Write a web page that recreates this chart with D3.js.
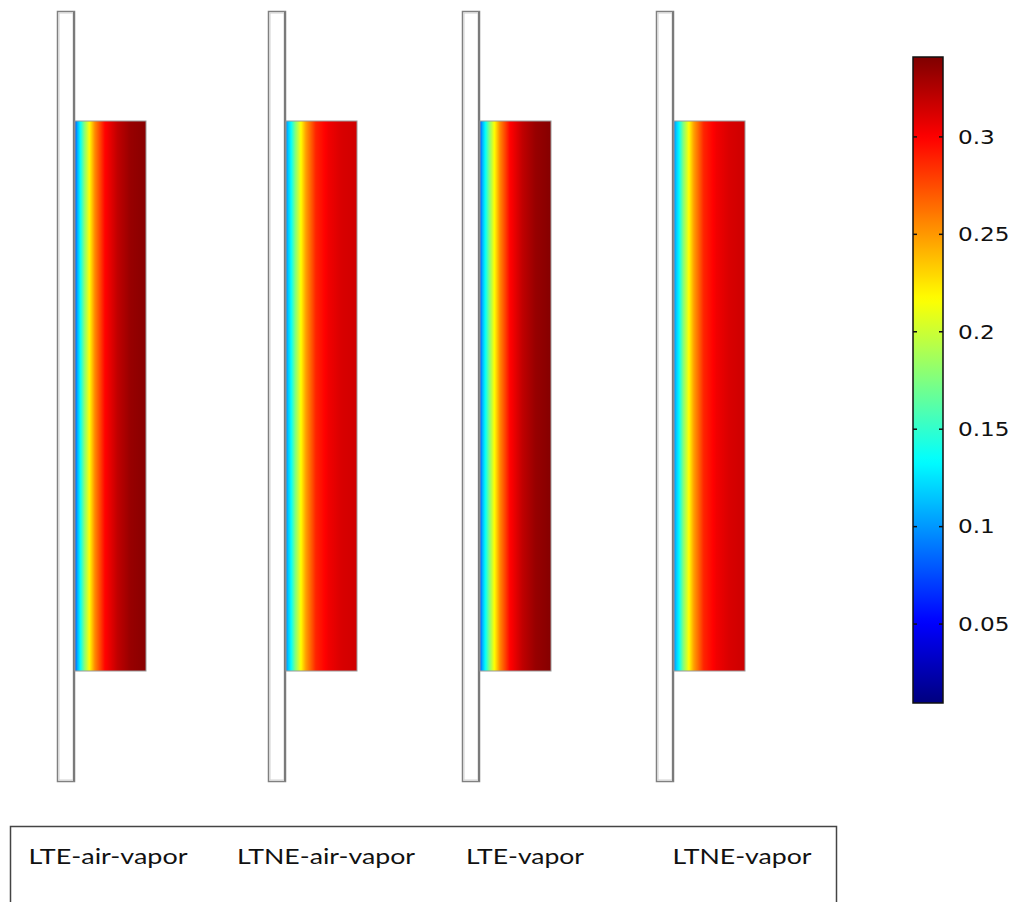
<!DOCTYPE html>
<html>
<head>
<meta charset="utf-8">
<script src="https://cdn.jsdelivr.net/npm/d3@7"></script>
<style>
	body { margin: 0; background: #fff; }
</style>
</head>
<body>
<div id="chart"></div>
<script>
// series (one strip per case)
var seriesNames = [ 'LTE-air-vapor', 'LTNE-air-vapor', 'LTE-vapor', 'LTNE-vapor' ];

// position across the porous layer, 0 = plate side, 1 = outer side
var profileX = [ 0, 0.03, 0.07, 0.13, 0.2, 0.28, 0.42, 0.6, 0.78, 1 ];

var lteAirVapor  = [ 0.075, 0.105, 0.13, 0.175, 0.215, 0.255, 0.298, 0.32, 0.333, 0.338 ];
var ltneAirVapor = [ 0.095, 0.115, 0.132, 0.175, 0.212, 0.248, 0.288, 0.304, 0.312, 0.315 ];
var lteVapor     = [ 0.075, 0.105, 0.13, 0.175, 0.215, 0.255, 0.298, 0.32, 0.333, 0.339 ];
var ltneVapor    = [ 0.095, 0.115, 0.132, 0.175, 0.212, 0.248, 0.288, 0.304, 0.312, 0.316 ];

// colour legend
var colorRange = [ 0.0095, 0.341 ];
var colorTicks = [ 0.05, 0.1, 0.15, 0.2, 0.25, 0.3 ];

var profiles = [ lteAirVapor, ltneAirVapor, lteVapor, ltneVapor ];

// layout
var W = 1013, H = 902;
var panelLeft = [ 57, 268, 462, 656 ];
var plateW = 18, layerW = 71;
var plateTop = 11, plateBottom = 782;
var layerTop = 121, layerBottom = 671;
var labelCenter = [ 108, 326, 525, 742 ];

var svg = d3.select( '#chart' )
	.append( 'svg' )
	.attr( 'width', W )
	.attr( 'height', H );

var defs = svg.append( 'defs' );

// jet colour map over the legend range
var jetPos = [ 0, 0.125, 0.375, 0.625, 0.875, 1 ];
var jetCol = [ '#00007f', '#0000ff', '#00ffff', '#ffff00', '#ff0000', '#7f0000' ];
var colorScale = d3.scaleLinear()
	.domain( jetPos.map( p => colorRange[ 0 ] + p * ( colorRange[ 1 ] - colorRange[ 0 ] ) ) )
	.range( jetCol )
	.clamp( true );

var samples = d3.range( 0, 101 ).map( i => i / 100 );

// PANELS
profiles.forEach( function( values, k ) {
	var x0 = panelLeft[ k ];
	var valueScale = d3.scaleLinear()
		.domain( profileX )
		.range( values );

	var grad = defs.append( 'linearGradient' )
		.attr( 'id', 'grad' + k )
		.attr( 'x1', '0%' ).attr( 'x2', '100%' )
		.attr( 'y1', '0%' ).attr( 'y2', '0%' );
	grad.selectAll( 'stop' )
		.data( samples )
		.enter()
		.append( 'stop' )
		.attr( 'offset', d => ( d * 100 ) + '%' )
		.attr( 'stop-color', d => colorScale( valueScale( d ) ) );

	var g = svg.append( 'g' );

	// plate
	g.append( 'rect' )
		.attr( 'x', x0 + 0.5 )
		.attr( 'y', plateTop + 0.5 )
		.attr( 'width', plateW - 1 )
		.attr( 'height', plateBottom - plateTop - 1 )
		.attr( 'fill', '#fff' )
		.attr( 'stroke', '#808080' )
		.attr( 'stroke-width', 1.5 );
	g.append( 'rect' )
		.attr( 'x', x0 + 2 )
		.attr( 'y', plateTop + 2 )
		.attr( 'width', plateW - 4 )
		.attr( 'height', plateBottom - plateTop - 4 )
		.attr( 'fill', 'none' )
		.attr( 'stroke', '#d0d0d0' )
		.attr( 'stroke-width', 1 );
	g.append( 'line' )
		.attr( 'x1', x0 + plateW - 1 )
		.attr( 'x2', x0 + plateW - 1 )
		.attr( 'y1', plateTop + 1 )
		.attr( 'y2', plateBottom - 1 )
		.attr( 'stroke', '#7a7a7a' )
		.attr( 'stroke-width', 2 );

	// porous layer
	g.append( 'rect' )
		.attr( 'x', x0 + plateW )
		.attr( 'y', layerTop )
		.attr( 'width', layerW )
		.attr( 'height', layerBottom - layerTop )
		.attr( 'fill', 'url(#grad' + k + ')' )
		.attr( 'stroke', '#9a9a9a' )
		.attr( 'stroke-width', 1 );
} );

// COLOUR LEGEND
var cbX = 913, cbW = 30, cbTop = 57, cbBottom = 703;
var cbScale = d3.scaleLinear()
	.domain( colorRange )
	.range( [ cbBottom, cbTop ] );

var cbGrad = defs.append( 'linearGradient' )
	.attr( 'id', 'cbGrad' )
	.attr( 'x1', '0%' ).attr( 'x2', '0%' )
	.attr( 'y1', '100%' ).attr( 'y2', '0%' );
cbGrad.selectAll( 'stop' )
	.data( samples )
	.enter()
	.append( 'stop' )
	.attr( 'offset', d => ( d * 100 ) + '%' )
	.attr( 'stop-color', d => colorScale( colorRange[ 0 ] + d * ( colorRange[ 1 ] - colorRange[ 0 ] ) ) );

svg.append( 'rect' )
	.attr( 'x', cbX )
	.attr( 'y', cbTop )
	.attr( 'width', cbW )
	.attr( 'height', cbBottom - cbTop )
	.attr( 'fill', 'url(#cbGrad)' )
	.attr( 'stroke', '#111' )
	.attr( 'stroke-width', 1.5 );

var ticks = svg.append( 'g' ).selectAll( 'g' )
	.data( colorTicks )
	.enter()
	.append( 'g' )
	.attr( 'transform', d => 'translate(0,' + cbScale( d ) + ')' );

ticks.append( 'line' )
	.attr( 'x1', cbX ).attr( 'x2', cbX + 4 )
	.attr( 'stroke', '#111' ).attr( 'stroke-width', 1.5 );
ticks.append( 'line' )
	.attr( 'x1', cbX + cbW - 4 ).attr( 'x2', cbX + cbW )
	.attr( 'stroke', '#111' ).attr( 'stroke-width', 1.5 );
ticks.append( 'text' )
	.attr( 'x', 958 )
	.attr( 'dy', '0.36em' )
	.text( d => d3.format( '' )( d ) )
	.attr( 'font-family', 'DejaVu Sans, sans-serif' )
	.attr( 'font-size', '19px' )
	.attr( 'fill', '#111' )
	.each( function() {
		var len = this.getComputedTextLength();
		d3.select( this )
			.attr( 'textLength', len * 1.22 )
			.attr( 'lengthAdjust', 'spacingAndGlyphs' );
	} );

// LABEL BOX
svg.append( 'rect' )
	.attr( 'x', 10.5 )
	.attr( 'y', 826.5 )
	.attr( 'width', 826 )
	.attr( 'height', 120 )
	.attr( 'fill', 'none' )
	.attr( 'stroke', '#444' )
	.attr( 'stroke-width', 1.5 );

var labelWidth = [ 159, 178, 118, 139 ];
svg.append( 'g' ).selectAll( 'text' )
	.data( seriesNames )
	.enter()
	.append( 'text' )
	.attr( 'x', ( d, i ) => labelCenter[ i ] )
	.attr( 'y', 864 )
	.attr( 'text-anchor', 'middle' )
	.text( d => d )
	.attr( 'font-family', 'Lato, sans-serif' )
	.attr( 'font-size', '22px' )
	.attr( 'fill', '#111' )
	.attr( 'textLength', ( d, i ) => labelWidth[ i ] )
	.attr( 'lengthAdjust', 'spacingAndGlyphs' );
</script>
</body>
</html>
